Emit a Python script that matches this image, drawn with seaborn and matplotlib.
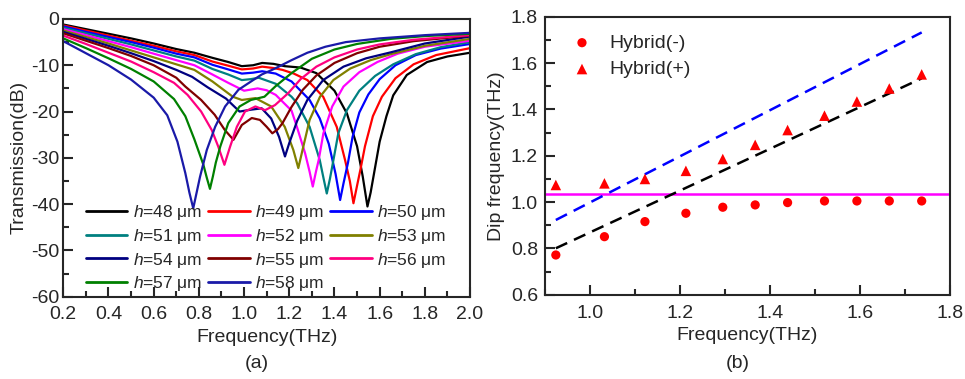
import numpy as np
import pandas as pd
import matplotlib
matplotlib.use("Agg")
import matplotlib.pyplot as plt
from matplotlib.lines import Line2D
from matplotlib.ticker import MultipleLocator
import seaborn as sns

# ---- panel (a): transmission spectra ----
heights = [48, 49, 50, 51, 52, 53, 54, 55, 56, 57, 58]
colors = ['#000000', '#ff0000', '#0000ff', '#008080', '#ff00ff', '#808000',
          '#000080', '#800000', '#ff0080', '#008000', '#1a1aa8']

f48 = [0.20, 0.30, 0.40, 0.50, 0.60, 0.70, 0.78, 0.86, 0.93, 0.99, 1.04, 1.08, 1.13, 1.18, 1.25, 1.32, 1.40, 1.455, 1.50, 1.525, 1.546, 1.56, 1.58, 1.60, 1.63, 1.66, 1.72, 1.81, 1.90, 2.00]
t48 = [-1.2, -2.2, -3.2, -4.2, -5.3, -6.5, -7.3, -8.4, -9.3, -10.2, -10.0, -9.5, -9.7, -10.2, -10.5, -11.7, -15.5, -20.4, -27.5, -34.0, -40.5, -37.5, -32.0, -26.5, -21.0, -16.5, -12.1, -9.3, -8.1, -7.3]

f49 = [0.20, 0.30, 0.40, 0.50, 0.60, 0.70, 0.78, 0.86, 0.93, 0.99, 1.04, 1.08, 1.13, 1.17, 1.22, 1.28, 1.35, 1.41, 1.447, 1.468, 1.484, 1.50, 1.515, 1.535, 1.57, 1.61, 1.67, 1.75, 1.85, 2.00]
t49 = [-1.4, -2.5, -3.6, -4.7, -5.8, -7.0, -7.8, -9.2, -10.1, -10.9, -10.7, -10.3, -10.6, -11.0, -11.8, -13.2, -16.8, -23.3, -30.5, -35.0, -39.8, -36.0, -32.5, -27.5, -21.0, -16.8, -12.8, -9.8, -7.8, -6.3]

f50 = [0.20, 0.30, 0.40, 0.50, 0.60, 0.70, 0.78, 0.86, 0.93, 0.99, 1.04, 1.08, 1.14, 1.21, 1.29, 1.335, 1.375, 1.405, 1.425, 1.44, 1.46, 1.48, 1.51, 1.55, 1.60, 1.67, 1.76, 1.87, 2.00]
t50 = [-1.6, -2.8, -3.9, -5.0, -6.2, -7.5, -8.3, -9.9, -10.9, -11.8, -11.6, -11.3, -11.8, -13.5, -17.5, -21.5, -27.0, -33.5, -39.1, -35.5, -31.0, -25.5, -20.2, -16.3, -13.0, -10.0, -7.8, -6.4, -5.4]

f51 = [0.20, 0.30, 0.40, 0.50, 0.60, 0.70, 0.78, 0.86, 0.93, 0.99, 1.03, 1.065, 1.14, 1.21, 1.235, 1.29, 1.335, 1.352, 1.366, 1.38, 1.39, 1.417, 1.455, 1.51, 1.58, 1.66, 1.76, 1.87, 2.00]
t51 = [-1.9, -3.1, -4.3, -5.5, -6.8, -8.1, -9.0, -10.8, -12.0, -13.2, -13.0, -12.7, -14.0, -16.8, -18.2, -23.3, -30.5, -34.5, -37.7, -34.5, -31.9, -24.7, -19.7, -15.5, -12.3, -9.8, -7.6, -6.1, -5.0]

f52 = [0.20, 0.30, 0.40, 0.50, 0.60, 0.70, 0.78, 0.86, 0.93, 1.00, 1.06, 1.10, 1.14, 1.21, 1.235, 1.27, 1.29, 1.304, 1.318, 1.33, 1.351, 1.39, 1.44, 1.51, 1.59, 1.68, 1.80, 2.00]
t52 = [-2.2, -3.5, -4.8, -6.1, -7.5, -8.9, -10.0, -12.0, -13.8, -15.5, -15.0, -15.4, -16.4, -19.8, -23.5, -29.0, -33.0, -36.2, -33.0, -30.5, -24.7, -18.9, -14.6, -11.5, -9.3, -7.5, -6.0, -4.7]

f53 = [0.20, 0.30, 0.40, 0.50, 0.60, 0.70, 0.78, 0.86, 0.95, 0.99, 1.05, 1.12, 1.18, 1.218, 1.24, 1.262, 1.29, 1.336, 1.395, 1.47, 1.56, 1.65, 1.80, 2.00]
t53 = [-2.5, -3.9, -5.3, -6.8, -8.3, -9.8, -11.0, -13.5, -16.8, -17.5, -17.1, -18.9, -23.3, -28.3, -32.2, -27.6, -21.8, -16.8, -13.2, -10.7, -8.9, -7.6, -5.8, -4.3]

f54 = [0.20, 0.30, 0.40, 0.50, 0.60, 0.70, 0.77, 0.84, 0.92, 0.98, 1.03, 1.078, 1.12, 1.155, 1.181, 1.20, 1.235, 1.28, 1.35, 1.44, 1.54, 1.65, 1.80, 2.00]
t54 = [-2.8, -4.3, -5.8, -7.4, -9.1, -11.0, -12.5, -14.8, -17.2, -20.0, -19.6, -19.3, -21.5, -25.5, -29.7, -26.8, -22.0, -17.5, -13.2, -10.3, -8.5, -7.2, -5.3, -3.8]

f55 = [0.20, 0.30, 0.40, 0.50, 0.60, 0.70, 0.74, 0.81, 0.87, 0.915, 0.953, 0.99, 1.034, 1.07, 1.10, 1.125, 1.15, 1.17, 1.21, 1.26, 1.32, 1.40, 1.50, 1.60, 1.75, 2.00]
t55 = [-3.1, -4.7, -6.3, -8.0, -10.0, -12.7, -14.6, -17.5, -20.7, -24.0, -26.1, -22.9, -21.4, -21.8, -23.3, -24.7, -23.8, -22.5, -19.0, -15.3, -12.2, -9.5, -7.4, -6.0, -4.8, -3.6]

f56 = [0.20, 0.30, 0.40, 0.50, 0.60, 0.69, 0.75, 0.81, 0.857, 0.886, 0.913, 0.938, 0.968, 1.004, 1.05, 1.093, 1.137, 1.196, 1.25, 1.32, 1.40, 1.50, 1.60, 1.75, 2.00]
t56 = [-3.6, -5.4, -7.3, -9.2, -11.5, -13.8, -16.4, -20.0, -24.0, -27.6, -31.5, -27.6, -23.3, -20.0, -18.9, -19.7, -18.6, -16.0, -13.0, -10.3, -8.3, -6.6, -5.5, -4.5, -3.5]

f57 = [0.20, 0.30, 0.40, 0.50, 0.60, 0.69, 0.74, 0.78, 0.82, 0.835, 0.849, 0.862, 0.875, 0.895, 0.93, 0.98, 1.03, 1.09, 1.14, 1.21, 1.30, 1.40, 1.50, 1.65, 1.80, 2.00]
t57 = [-4.2, -6.3, -8.5, -10.8, -13.5, -17.3, -21.0, -26.0, -31.5, -34.3, -36.7, -34.0, -31.0, -27.5, -22.5, -18.9, -17.5, -16.8, -14.5, -11.7, -8.6, -6.6, -5.4, -4.3, -3.7, -3.2]

f58 = [0.20, 0.30, 0.40, 0.50, 0.60, 0.66, 0.705, 0.74, 0.758, 0.775, 0.79, 0.805, 0.835, 0.872, 0.916, 0.975, 1.034, 1.078, 1.137, 1.21, 1.28, 1.36, 1.45, 1.60, 1.80, 2.00]
t58 = [-4.8, -7.4, -10.0, -13.1, -17.0, -20.8, -26.5, -33.3, -37.5, -40.9, -37.5, -34.1, -28.3, -23.3, -18.9, -15.3, -13.4, -12.0, -10.7, -8.9, -7.3, -6.0, -5.0, -4.2, -3.5, -3.0]

freqs = [f48, f49, f50, f51, f52, f53, f54, f55, f56, f57, f58]
trans = [t48, t49, t50, t51, t52, t53, t54, t55, t56, t57, t58]

# ---- panel (b): dip frequencies ----
x_res = [0.924, 1.032, 1.122, 1.213, 1.295, 1.367, 1.439, 1.521, 1.593, 1.665, 1.737]
hyb_minus = [0.772, 0.851, 0.916, 0.952, 0.978, 0.988, 0.998, 1.005, 1.005, 1.005, 1.005]
hyb_plus = [1.074, 1.081, 1.100, 1.135, 1.186, 1.247, 1.311, 1.373, 1.434, 1.490, 1.551]
flat_level = 1.035
blue_x = [0.924, 1.737]
blue_y = [0.923, 1.732]
black_x = [0.924, 1.737]
black_y = [0.801, 1.534]

sns.set_style("ticks")
plt.rcParams['font.family'] = ['Liberation Sans', 'DejaVu Sans']
plt.rcParams['mathtext.fontset'] = 'custom'
plt.rcParams['mathtext.rm'] = 'Liberation Sans'
plt.rcParams['mathtext.it'] = 'Liberation Sans:italic'
plt.rcParams['font.size'] = 14
plt.rcParams['axes.linewidth'] = 1.5
plt.rcParams['axes.unicode_minus'] = False

labels = [f"$h$={h} μm" for h in heights]
rows = []
for lab, ff, tt in zip(labels, freqs, trans):
    for a, b in zip(ff, tt):
        rows.append((lab, a, b))
df = pd.DataFrame(rows, columns=['label', 'freq', 'trans'])
pal = dict(zip(labels, colors))

fig = plt.figure(figsize=(9.65, 3.79), dpi=100)
ax1 = fig.add_axes([0.0656, 0.217, 0.4215, 0.733])
ax2 = fig.add_axes([0.5648, 0.222, 0.4197, 0.734])

sns.lineplot(data=df, x='freq', y='trans', hue='label', hue_order=labels,
             palette=pal, estimator=None, sort=False, linewidth=1.6,
             legend=False, ax=ax1)
ax1.set_xlim(0.2, 2.0)
ax1.set_ylim(-60, 0)
ax1.xaxis.set_minor_locator(MultipleLocator(0.1))
ax1.yaxis.set_major_locator(MultipleLocator(10))
ax1.yaxis.set_minor_locator(MultipleLocator(5))
ax1.set_xticks(np.arange(0.2, 2.01, 0.2))
ax1.set_xticklabels([f"{v:.1f}" for v in np.arange(0.2, 2.01, 0.2)])
ax1.set_xlabel('Frequency(THz)', fontsize=14, labelpad=4)
ax1.set_ylabel('Transmission(dB)', fontsize=14, labelpad=2)
ax1.tick_params(axis='both', which='both', direction='in', top=False, right=False, labelsize=14)
ax1.tick_params(axis='both', which='major', length=7, width=1.5)
ax1.tick_params(axis='both', which='minor', length=4, width=1.5)
ax1.tick_params(axis='y', pad=3)
ax1.tick_params(axis='x', pad=7)

handles = [Line2D([0], [0], color=c, lw=2) for c in colors]
order = [0, 3, 6, 9, 1, 4, 7, 10, 2, 5, 8]
ax1.legend([handles[i] for i in order], [labels[i] for i in order], ncol=3,
           loc='lower left', bbox_to_anchor=(0.055, 0.012), frameon=False,
           fontsize=12.5, handlelength=2.4, handletextpad=0.3,
           columnspacing=0.35, labelspacing=0.28, borderpad=0, borderaxespad=0)

ax2.axhline(flat_level, color='#ff00ff', lw=1.8, zorder=1)
ax2.plot(blue_x, blue_y, color='#0000ff', lw=1.8, dashes=(5, 3), zorder=1)
ax2.plot(black_x, black_y, color='black', lw=1.8, dashes=(5, 3), zorder=1)
sns.scatterplot(x=x_res, y=hyb_minus, marker='o', color='#ff0000', s=44,
                edgecolor='none', label='Hybrid(-)', ax=ax2, zorder=3)
sns.scatterplot(x=x_res, y=hyb_plus, marker='^', color='#ff0000', s=58,
                edgecolor='none', label='Hybrid(+)', ax=ax2, zorder=3)
ax2.set_xlim(0.9, 1.8)
ax2.set_ylim(0.6, 1.8)
ax2.xaxis.set_major_locator(MultipleLocator(0.2))
ax2.xaxis.set_minor_locator(MultipleLocator(0.1))
ax2.yaxis.set_major_locator(MultipleLocator(0.2))
ax2.yaxis.set_minor_locator(MultipleLocator(0.1))
ax2.xaxis.set_major_formatter(matplotlib.ticker.FormatStrFormatter('%.1f'))
ax2.yaxis.set_major_formatter(matplotlib.ticker.FormatStrFormatter('%.1f'))
ax2.set_xlabel('Frequency(THz)', fontsize=14, labelpad=4)
ax2.set_ylabel('Dip frequency(THz)', fontsize=14, labelpad=4)
ax2.tick_params(axis='both', which='both', direction='in', top=False, right=False, labelsize=14)
ax2.tick_params(axis='both', which='major', length=7, width=1.5)
ax2.tick_params(axis='both', which='minor', length=4, width=1.5)
ax2.tick_params(axis='y', pad=5)
ax2.tick_params(axis='x', pad=7)
ax2.legend(loc='upper left', frameon=False, fontsize=14, handletextpad=0.4,
           labelspacing=0.45, borderaxespad=0.5, markerscale=1.0)

fig.text(0.266, 0.042, '(a)', ha='center', va='center', fontsize=14)
fig.text(0.765, 0.042, '(b)', ha='center', va='center', fontsize=14)

fig.savefig('out.png', dpi=100)
